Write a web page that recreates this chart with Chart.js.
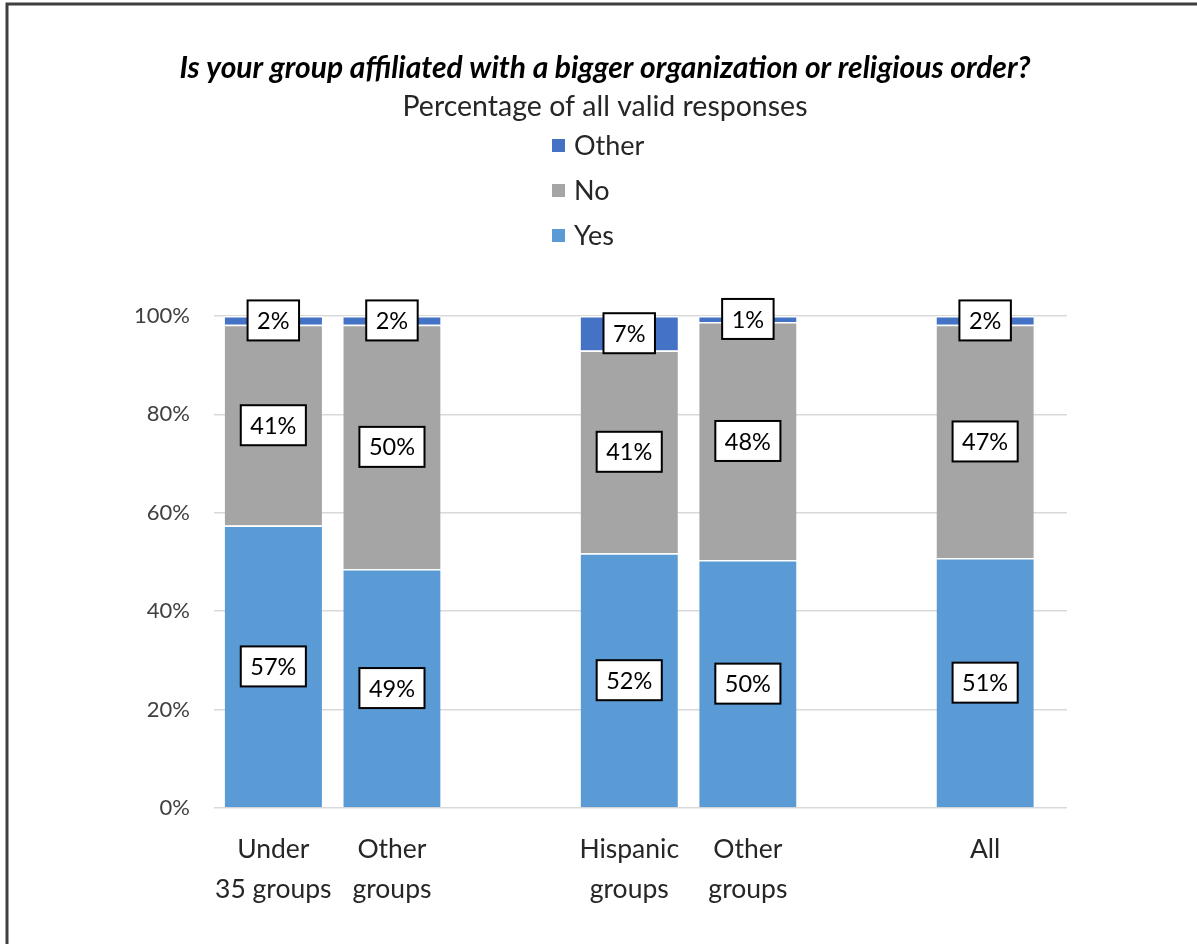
<!DOCTYPE html>
<html>
<head>
<meta charset="utf-8">
<title>Affiliation with a bigger organization</title>
<script src="https://cdn.jsdelivr.net/npm/chart.js@4.4.0/dist/chart.umd.min.js"></script>
<style>
  html, body { margin: 0; padding: 0; background: #fff; }
  #wrap { position: relative; width: 1197px; height: 944px; }
</style>
</head>
<body>
<div id="wrap"><canvas id="affChart"></canvas></div>
<script>
// categories ('' = empty slot between groups)
const categories = [['Under', '35 groups'], ['Other', 'groups'], '', ['Hispanic', 'groups'], ['Other', 'groups'], '', 'All'];
const yesValues = [57.4, 48.6, null, 51.8, 50.4, null, 50.8];
const noValues = [40.8, 49.6, null, 41.2, 48.4, null, 47.4];
const otherValues = [1.8, 1.8, null, 7.0, 1.2, null, 1.8];
const yTicks = [0, 20, 40, 60, 80, 100];

const titleText = 'Is your group affiliated with a bigger organization or religious order?';
const subtitleText = 'Percentage of all valid responses';

const FONT = 'Lato, "Open Sans", sans-serif';

function toPoints(values) {
  return values.map((v, i) => ({ x: i, y: v }));
}

// white page with the dark frame at top/left
const frame = {
  id: 'frame',
  beforeDraw(chart) {
    const ctx = chart.ctx;
    ctx.save();
    ctx.fillStyle = '#fff';
    ctx.fillRect(0, 0, chart.width, chart.height);
    ctx.strokeStyle = '#3f3f3f';
    ctx.lineWidth = 3;
    ctx.beginPath();
    ctx.moveTo(7, chart.height);
    ctx.lineTo(7, 4);
    ctx.lineTo(chart.width, 4);
    ctx.stroke();
    ctx.restore();
  }
};

// title, subtitle and a one-column legend (top item = last dataset)
const header = {
  id: 'header',
  afterDraw(chart) {
    const ctx = chart.ctx;
    const cx = 605;
    ctx.save();
    ctx.textAlign = 'center';
    ctx.textBaseline = 'middle';
    ctx.fillStyle = '#000';
    ctx.font = 'italic bold 30px ' + FONT;
    ctx.fillText(titleText, cx, 68);
    ctx.fillStyle = '#262626';
    ctx.font = '28.5px ' + FONT;
    ctx.fillText(subtitleText, cx, 107);

    const left = 552;
    let y = 146;
    ctx.textAlign = 'left';
    ctx.font = '27px ' + FONT;
    chart.data.datasets.slice().reverse().forEach(ds => {
      ctx.fillStyle = ds.backgroundColor;
      ctx.fillRect(left, y - 7, 13, 13);
      ctx.fillStyle = '#262626';
      ctx.fillText(ds.label, left + 22, y);
      y += 45;
    });
    ctx.restore();
  }
};

// boxed value labels in the middle of each segment
const boxLabels = {
  id: 'boxLabels',
  afterDatasetsDraw(chart) {
    const ctx = chart.ctx;
    ctx.save();
    ctx.font = '23.5px ' + FONT;
    ctx.textAlign = 'center';
    ctx.textBaseline = 'middle';
    chart.data.datasets.forEach((ds, i) => {
      const meta = chart.getDatasetMeta(i);
      meta.data.forEach((bar, j) => {
        const v = ds.data[j].y;
        if (v === null) return;
        const text = Math.round(v) + '%';
        const cy = (bar.y + bar.base) / 2;
        const w = ctx.measureText(text).width + 19;
        const h = 40;
        ctx.fillStyle = '#fff';
        ctx.fillRect(bar.x - w / 2, cy - h / 2, w, h);
        ctx.strokeStyle = '#000';
        ctx.lineWidth = 2;
        ctx.strokeRect(bar.x - w / 2, cy - h / 2, w, h);
        ctx.fillStyle = '#000';
        ctx.fillText(text, bar.x, cy + 1);
      });
    });
    ctx.restore();
  }
};

document.addEventListener('DOMContentLoaded', function() {
  const ctx = document.getElementById('affChart').getContext('2d');

  const segment = {
    borderColor: '#fff',
    borderWidth: { top: 1.5, left: 0, right: 0, bottom: 0 },
    borderSkipped: false,
    categoryPercentage: 1,
    barPercentage: 0.82
  };

  new Chart(ctx, {
    type: 'bar',
    data: {
      datasets: [
        Object.assign({ label: 'Yes', data: toPoints(yesValues), backgroundColor: '#5b9bd5' }, segment),
        Object.assign({ label: 'No', data: toPoints(noValues), backgroundColor: '#a5a5a5' }, segment),
        Object.assign({ label: 'Other', data: toPoints(otherValues), backgroundColor: '#4472c4' }, segment)
      ]
    },
    options: {
      responsive: true,
      maintainAspectRatio: false,
      animation: false,
      layout: {
        padding: { left: 0, right: 130, top: 316, bottom: 0 }
      },
      plugins: {
        legend: { display: false },
        tooltip: { enabled: false }
      },
      scales: {
        x: {
          type: 'linear',
          stacked: true,
          offset: false,
          min: -0.5,
          max: 6.69,
          bounds: 'data',
          grid: { display: false },
          border: { display: false },
          afterBuildTicks: function(scale) {
            scale.ticks = categories.map((c, i) => ({ value: i }));
          },
          afterFit: function(scale) {
            scale.height = 136;
          },
          ticks: {
            autoSkip: false,
            maxRotation: 0,
            padding: 13,
            color: '#262626',
            font: { family: FONT, size: 26.5, lineHeight: 1.51 },
            callback: function(value) {
              return categories[value];
            }
          }
        },
        y: {
          stacked: true,
          min: 0,
          max: 100,
          afterBuildTicks: function(scale) {
            scale.ticks = yTicks.map(v => ({ value: v }));
          },
          afterFit: function(scale) {
            scale.width = 214;
          },
          grid: { color: '#d9d9d9', lineWidth: 1.5, drawTicks: false },
          border: { display: false },
          ticks: {
            padding: 24,
            color: '#404040',
            font: { family: FONT, size: 22 },
            callback: function(value) {
              return value + '%';
            }
          }
        }
      }
    },
    plugins: [frame, boxLabels, header]
  });
});
</script>
</body>
</html>
